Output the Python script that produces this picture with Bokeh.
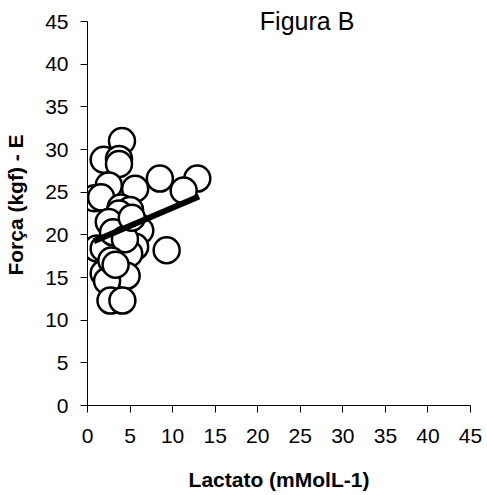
from bokeh.plotting import figure
from bokeh.models import Label, FixedTicker
from bokeh.embed import file_html
from bokeh.resources import INLINE

# Data (Lactato mMol/L, Força kgf)
lactato = [4.05, 1.9, 3.7, 3.7, 8.5, 12.9, 11.3, 2.5, 5.6, 0.8, 1.6, 3.9, 5.0, 3.7,
           2.5, 5.8, 6.2, 1.1, 1.9, 5.6, 9.3, 4.9, 1.9, 3.9, 4.6, 2.3, 2.7, 4.1,
           3.0, 4.4, 2.8, 5.2, 3.3]
forca = [31.0, 28.8, 28.9, 28.3, 26.6, 26.6, 25.2, 25.8, 25.4, 24.3, 24.4, 23.2, 22.9, 22.5,
         21.5, 21.1, 20.5, 18.4, 18.4, 18.6, 18.2, 17.8, 15.5, 15.5, 15.2, 14.6, 12.3, 12.3,
         20.3, 19.5, 17.0, 22.0, 16.5]
trend_x = [0.75, 13.1]
trend_y = [19.25, 24.5]
ticks = [0, 5, 10, 15, 20, 25, 30, 35, 40, 45]
title_text = "Figura B"
x_label = "Lactato (mMolL-1)"
y_label = "Força (kgf) - E"

FONT = "Liberation Sans"

p = figure(width=487, height=495, x_range=(0, 45), y_range=(0, 47),
           output_backend="svg", toolbar_location=None,
           min_border_left=87, min_border_right=17, min_border_top=4, min_border_bottom=90)
p.outline_line_color = None
p.grid.visible = False
p.background_fill_color = "white"
p.border_fill_color = "white"

for ax in (p.xaxis[0], p.yaxis[0]):
    ax.ticker = FixedTicker(ticks=ticks)
    ax.bounds = (0, 45)
    ax.minor_tick_line_color = None
    ax.major_tick_in = 0
    ax.major_tick_out = 7
    ax.axis_line_color = "black"
    ax.axis_line_width = 1
    ax.major_tick_line_color = "black"
    ax.major_label_text_font = FONT
    ax.major_label_text_font_size = "21px"
    ax.major_label_text_color = "black"
    ax.axis_label_text_font = FONT
    ax.axis_label_text_font_style = "bold"
    ax.axis_label_text_font_size = "21px"
    ax.axis_label_text_color = "black"

p.xaxis.axis_label = x_label
p.yaxis.axis_label = y_label
p.xaxis.major_label_standoff = 16
p.yaxis.major_label_standoff = 12
p.xaxis.axis_label_standoff = 22
p.yaxis.axis_label_standoff = 15

p.scatter(lactato, forca, size=26, fill_color="white", line_color="black", line_width=2.5)
p.line(trend_x, trend_y, line_color="black", line_width=6)

p.add_layout(Label(x=25.8, y=45.1, text=title_text, text_align="center",
                   text_baseline="middle", text_font=FONT, text_font_size="25px",
                   text_color="black"))

open("out.html", "w").write(file_html(p, INLINE))
